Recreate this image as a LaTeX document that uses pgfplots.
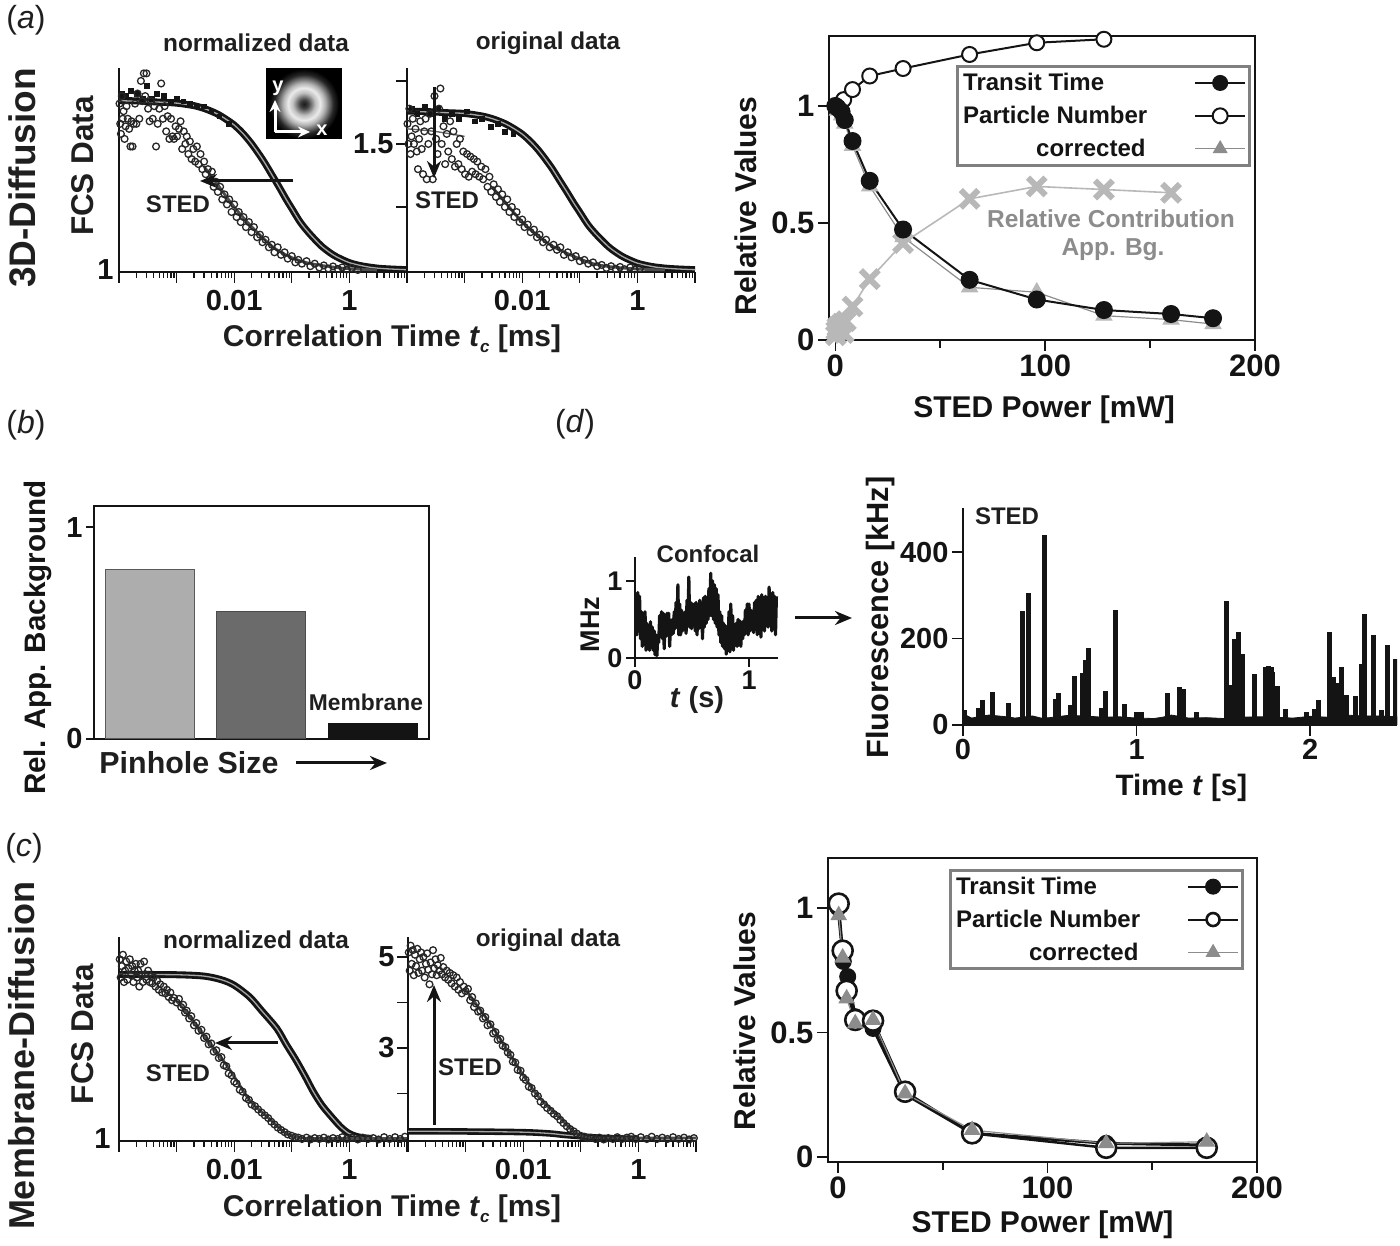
\documentclass[border=0pt]{standalone}
\usepackage{fontspec}
\usepackage{pgfplots}
\usepackage{pgfplotstable}
\pgfplotsset{compat=1.18}
\usetikzlibrary{arrows.meta}
\setmainfont{Liberation Sans}
\newcommand\fs[1]{\fontsize{#1}{#1}\selectfont\bfseries}
\newcommand\TT[4][0]{\node[rotate=#1,inner sep=0pt,text=black!88] at (#2pt,1246pt-#3pt) {#4};}
\definecolor{lgray}{gray}{0.72}
\definecolor{mgray}{gray}{0.55}
\definecolor{ink}{gray}{0.08}
\pgfdeclareradialshading{donut}{\pgfpoint{0bp}{0bp}}{gray(0bp)=(0.1);gray(3bp)=(0.25);gray(8bp)=(0.75);gray(11.5bp)=(0.92);gray(15bp)=(0.7);gray(21bp)=(0.15);gray(25bp)=(0.0);gray(50bp)=(0.0)}
\pgfplotsset{
 table/lt/.style={x expr={log10(\thisrowno{0})},y index=1},
 fcs/.style={scale only axis,width=288pt,height=204pt,xmin=-4,xmax=1,
  axis lines=left,axis line style={-,line width=1.7pt,ink},tick align=outside,
  major tick length=11pt,minor tick length=6pt,every tick/.append style={line width=1.3pt,ink},
  xtick={-4,-3,-2,-1,0,1},xticklabels={,,0.01,,1,},
  minor xtick={-3.699,-3.523,-3.398,-3.301,-3.222,-3.155,-3.097,-3.046,
   -2.699,-2.523,-2.398,-2.301,-2.222,-2.155,-2.097,-2.046,
   -1.699,-1.523,-1.398,-1.301,-1.222,-1.155,-1.097,-1.046,
   -0.699,-0.523,-0.398,-0.301,-0.222,-0.155,-0.097,-0.046,
   0.301,0.477,0.602,0.699,0.778,0.845,0.903,0.954},
  xticklabel style={font=\fs{29},text=ink,yshift=-4pt},yticklabel style={font=\fs{29},text=ink,xshift=1pt}},
 scat/.style={only marks,mark=o,mark size=3.4pt,mark options={draw=black!85,fill=white,fill opacity=0.55,draw opacity=1,line width=1.3pt}},
 cblob/.style={only marks,mark=square*,mark size=2.4pt,mark options={draw=ink,fill=ink}},
 band/.style={smooth,line width=7pt,ink},
 core/.style={smooth,line width=1.3pt,black!35},
 fitline/.style={smooth,line width=1.4pt,black!60},
 under/.style={smooth,line width=2.8pt,black!70},
 rel/.style={scale only axis,axis line style={line width=1.7pt,ink},tick pos=left,tick align=outside,
  major tick length=11pt,minor tick length=8pt,every tick/.append style={line width=1.6pt,ink},
  xtick={0,100,200},xticklabels={0,100,200},minor xtick={50,150},xmin=-3,xmax=200,
  ytick={0,0.5,1},yticklabels={0,0.5,1},
  xticklabel style={font=\fs{31},text=ink},yticklabel style={font=\fs{31},text=ink},
  label style={font=\fs{30},text=ink},
  legend plot pos=right,legend cell align=left,
  legend style={font=\fs{24},text=ink,draw=black!50,line width=3pt,inner xsep=3.5pt,inner ysep=5pt,row sep=10pt,fill=white},
  legend image code/.code={\draw[mark repeat=2,mark phase=2,##1] plot coordinates {(0pt,0pt)(25pt,0pt)(50pt,0pt)};}},
 blk/.style={line width=2pt,ink,mark=*,mark options={draw=ink,fill=ink,line width=1pt}},
 opn/.style={line width=2pt,ink,mark=*,mark options={draw=ink,fill=white,line width=2pt}},
 tri/.style={line width=1.2pt,mgray,mark=triangle*,mark options={draw=lgray,fill=lgray}},
}
\begin{document}
\begin{tikzpicture}[x=1pt,y=1pt]
\useasboundingbox (0,0) rectangle (1400pt,1246pt);

% ------------------ (a) left
\begin{axis}[fcs,ymin=0.992,ymax=1.8015,ytick={1},yticklabels={1},ytick style={draw=none},yticklabel style={xshift=8pt},at={(119pt,974pt)},anchor=south west]
\addplot[band] table[lt] {
1e-4 1.672
2e-4 1.671
5e-4 1.666
1e-3 1.662
2e-3 1.652
3.16e-3 1.639
5e-3 1.62
7e-3 1.60
1e-2 1.575
1.4e-2 1.543
2e-2 1.501
3.16e-2 1.436
4.5e-2 1.378
6e-2 1.33
8e-2 1.28
1e-1 1.244
1.4e-1 1.19
2e-1 1.146
3.16e-1 1.098
.45 1.07
.6 1.052
1 1.029
1.5 1.018
2 1.013
3.16 1.007
5 1.004
10 1.001
};
\addplot[cblob] table[lt] {
1.1e-4 1.70
1.3e-4 1.69
1.6e-4 1.71
2e-4 1.70
2.6e-4 1.68
3e-4 1.73
3.7e-4 1.68
4.5e-4 1.70
6e-4 1.69
8e-4 1.67
1e-3 1.68
1.3e-3 1.67
1.7e-3 1.66
2.2e-3 1.65
3e-3 1.65
4e-3 1.63
5.5e-3 1.61
8e-3 1.58
};
\addplot[core] table[lt] {
1e-4 1.672
5e-4 1.666
1e-3 1.662
2e-3 1.652
3.16e-3 1.639
5e-3 1.62
7e-3 1.60
1e-2 1.575
1.4e-2 1.543
2e-2 1.501
3.16e-2 1.436
4.5e-2 1.378
6e-2 1.33
8e-2 1.28
1e-1 1.244
1.4e-1 1.19
2e-1 1.146
3.16e-1 1.098
.45 1.07
.6 1.052
1 1.029
2 1.013
3.16 1.007
5 1.004
10 1.001
};
\addplot[under] table[lt] {
3e-3 1.41
4.4e-3 1.36
1e-2 1.25
2.25e-2 1.16
5.5e-2 1.08
1.6e-1 1.032
7e-1 1.008
3 1.0
};
\addplot[scat] table[lt] {
1.02e-4 1.66
1.05e-4 1.58
1.08e-4 1.54
1.12e-4 1.69
1.16e-4 1.60
1.2e-4 1.63
1.25e-4 1.52
1.3e-4 1.57
1.35e-4 1.65
1.42e-4 1.60
1.5e-4 1.56
1.58e-4 1.49
1.65e-4 1.59
1.72e-4 1.49
1.8e-4 1.58
1.9e-4 1.66
2e-4 1.58
2.1e-4 1.70
2.25e-4 1.60
2.4e-4 1.75
2.55e-4 1.67
2.7e-4 1.78
2.85e-4 1.69
3e-4 1.78
3.2e-4 1.64
3.4e-4 1.59
3.6e-4 1.67
3.85e-4 1.60
4.1e-4 1.65
4.4e-4 1.49
4.7e-4 1.58
5e-4 1.64
5.4e-4 1.74
5.8e-4 1.60
6.2e-4 1.65
6.6e-4 1.55
7e-4 1.61
7.5e-4 1.52
8e-4 1.60
8.5e-4 1.53
9e-4 1.52
9.6e-4 1.57
1.02e-3 1.53
1.1e-3 1.56
1.17e-3 1.59
1.25e-3 1.48
1.33e-3 1.55
1.42e-3 1.50
1.5e-3 1.53
1.6e-3 1.46
1.7e-3 1.51
1.82e-3 1.44
1.95e-3 1.48
2.1e-3 1.43
2.25e-3 1.49
2.4e-3 1.42
2.6e-3 1.46
2.8e-3 1.40
3e-3 1.43
3.2e-3 1.38
3.5e-3 1.40
3.8e-3 1.36
4.1e-3 1.39
4.4e-3 1.33
4.8e-3 1.35
5.2e-3 1.31
5.7e-3 1.33
6.2e-3 1.28
6.8e-3 1.30
7.5e-3 1.26
8.2e-3 1.28
9e-3 1.23
1e-2 1.26
1.1e-2 1.21
1.2e-2 1.23
1.3e-2 1.19
1.45e-2 1.21
1.6e-2 1.17
1.8e-2 1.19
2e-2 1.15
2.2e-2 1.17
2.5e-2 1.13
2.8e-2 1.14
3.1e-2 1.11
3.5e-2 1.12
4e-2 1.09
4.5e-2 1.10
5e-2 1.07
5.7e-2 1.09
6.5e-2 1.06
7.5e-2 1.07
8.5e-2 1.045
1e-1 1.055
1.15e-1 1.03
1.3e-1 1.04
1.5e-1 1.025
1.8e-1 1.035
2.1e-1 1.015
2.5e-1 1.025
3e-1 1.01
3.6e-1 1.018
4.3e-1 1.006
5.2e-1 1.014
6.3e-1 1.004
7.5e-1 1.01
9e-1 1.002
1.1 1.008
1.4 1.0
};
\end{axis}

% ------------------ (a) middle
\begin{axis}[fcs,ymin=0.992,ymax=1.8015,ytick={1.25,1.5,1.75},yticklabels={,1.5,},at={(407pt,974pt)},anchor=south west]
\addplot[band] table[lt] {
1e-4 1.630
2e-4 1.629
5e-4 1.624
1e-3 1.621
2e-3 1.611
3.16e-3 1.599
5e-3 1.581
7e-3 1.5625
1e-2 1.539
1.4e-2 1.509
2e-2 1.47
3.16e-2 1.409
4.5e-2 1.354
6e-2 1.309
8e-2 1.2625
1e-1 1.229
1.4e-1 1.178
2e-1 1.137
3.16e-1 1.092
.45 1.066
.6 1.049
1 1.027
1.5 1.017
2 1.012
3.16 1.007
5 1.004
10 1.001
};
\addplot[cblob] table[lt] {
1.2e-4 1.64
1.5e-4 1.62
2e-4 1.65
2.6e-4 1.62
3.4e-4 1.64
4.5e-4 1.60
6e-4 1.62
8e-4 1.60
1.1e-3 1.63
1.5e-3 1.59
2e-3 1.60
2.8e-3 1.57
3.8e-3 1.58
5e-3 1.55
7e-3 1.54
};
\addplot[core] table[lt] {
1e-4 1.630
5e-4 1.624
1e-3 1.621
2e-3 1.611
3.16e-3 1.599
5e-3 1.581
7e-3 1.5625
1e-2 1.539
1.4e-2 1.509
2e-2 1.47
3.16e-2 1.409
4.5e-2 1.354
6e-2 1.309
8e-2 1.2625
1e-1 1.229
1.4e-1 1.178
2e-1 1.137
3.16e-1 1.092
.45 1.066
.6 1.049
1 1.027
2 1.012
3.16 1.007
5 1.004
10 1.001
};
\addplot[fitline] table[lt] {
1e-4 1.56
3e-4 1.55
1e-3 1.53
};
\addplot[under] table[lt] {
3e-3 1.33
5e-3 1.27
1e-2 1.19
2e-2 1.13
4e-2 1.085
1.7e-1 1.025
7e-1 1.006
3 1.0
};
\addplot[scat] table[lt] {
1.02e-4 1.58
1.06e-4 1.50
1.1e-4 1.64
1.15e-4 1.46
1.2e-4 1.53
1.26e-4 1.60
1.32e-4 1.50
1.4e-4 1.56
1.48e-4 1.47
1.55e-4 1.40
1.62e-4 1.52
1.7e-4 1.59
1.8e-4 1.48
1.9e-4 1.38
2e-4 1.55
2.1e-4 1.60
2.2e-4 1.36
2.35e-4 1.50
2.5e-4 1.62
2.65e-4 1.55
2.8e-4 1.36
3e-4 1.69
3.2e-4 1.52
3.4e-4 1.46
3.6e-4 1.64
3.8e-4 1.72
4e-4 1.50
4.3e-4 1.57
4.6e-4 1.42
4.9e-4 1.54
5.2e-4 1.47
5.6e-4 1.59
6e-4 1.44
6.4e-4 1.55
6.8e-4 1.41
7.3e-4 1.50
7.8e-4 1.42
8.3e-4 1.52
8.9e-4 1.40
9.5e-4 1.47
1.02e-3 1.38
1.1e-3 1.46
1.18e-3 1.37
1.26e-3 1.45
1.35e-3 1.39
1.45e-3 1.44
1.55e-3 1.38
1.66e-3 1.43
1.8e-3 1.37
1.95e-3 1.41
2.1e-3 1.36
2.3e-3 1.40
2.5e-3 1.33
2.7e-3 1.37
2.9e-3 1.31
3.2e-3 1.34
3.5e-3 1.29
3.8e-3 1.32
4.1e-3 1.27
4.5e-3 1.30
5e-3 1.25
5.5e-3 1.28
6e-3 1.23
6.6e-3 1.25
7.3e-3 1.21
8e-3 1.23
9e-3 1.19
1e-2 1.20
1.1e-2 1.17
1.25e-2 1.18
1.4e-2 1.15
1.6e-2 1.16
1.8e-2 1.13
2e-2 1.14
2.3e-2 1.11
2.6e-2 1.12
3e-2 1.09
3.5e-2 1.10
4e-2 1.08
4.6e-2 1.09
5.3e-2 1.06
6.2e-2 1.07
7.2e-2 1.05
8.5e-2 1.055
1e-1 1.035
1.2e-1 1.04
1.4e-1 1.025
1.7e-1 1.03
2e-1 1.015
2.4e-1 1.02
2.9e-1 1.008
3.5e-1 1.015
4.2e-1 1.005
5e-1 1.012
6e-1 1.003
7.5e-1 1.01
9e-1 1.002
1.1 1.006
};
\end{axis}

% inset
\fill[black] (266pt,1246pt-68pt) rectangle (342pt,1246pt-139pt);
\path[shading=donut] (304pt,1246pt-104pt) circle (35pt);
\draw[white,line width=3pt,-{Stealth[length=12pt,width=11pt]}] (275pt,1246pt-132pt) -- (275pt,1246pt-100pt);
\draw[white,line width=3pt,-{Stealth[length=12pt,width=11pt]}] (275pt,1246pt-132pt) -- (310pt,1246pt-132pt);
\node[text=white,inner sep=0pt,font=\fs{20}] at (278pt,1246pt-88pt) {y};
\node[text=white,inner sep=0pt,font=\fs{20}] at (322pt,1246pt-130pt) {x};

% ------------------ (a) right
\begin{axis}[rel,width=426pt,height=304pt,ymin=0,ymax=1.299,
 xlabel={STED Power [mW]},ylabel={Relative Values},
 xlabel style={at={(axis description cs:0.505,-0.23)},anchor=center},
 ylabel style={at={(axis description cs:-0.195,0.44)},anchor=center},
 reverse legend,legend style={at={(axis cs:57.6,1.175)},anchor=north west},at={(829pt,906pt)},anchor=south west]
\addplot[forget plot,line width=1.6pt,lgray,mark=x,mark size=12.5pt,mark options={line width=6pt,lgray}] coordinates {
(0.3,0.02)(0.5,0.04)(1,0.055)(2,0.045)(3,0.07)(4,0.03)(5,0.08)(8.2,0.143)(16.4,0.26)(32.3,0.414)(64,0.603)(96,0.656)(128,0.643)(160,0.629)};
\addplot[tri,mark size=9pt,legend image post style={mark size=7.5pt,mgray,mark options={draw=mgray,fill=mgray}}] coordinates {
(1,0.98)(3,0.96)(4.5,0.925)(8.2,0.83)(16.4,0.657)(32.3,0.44)(64,0.225)(96,0.204)(128,0.104)(160,0.087)(180,0.068)};
\addlegendentry{\makebox[229pt][l]{\hspace*{73pt}corrected}}
\addplot[opn,mark size=7.5pt] coordinates {
(1,0.995)(4,1.027)(8.2,1.07)(16.4,1.128)(32.3,1.16)(64,1.22)(96,1.27)(128,1.285)};
\addlegendentry{\makebox[229pt][l]{Particle Number}}
\addplot[blk,mark size=8.5pt,legend image post style={mark size=7.5pt}] coordinates {
(0,1.0)(1,0.993)(3,0.975)(4.5,0.94)(8.2,0.85)(16.4,0.68)(32.3,0.472)(64,0.257)(96,0.173)(128,0.128)(160,0.111)(180,0.093)};
\addlegendentry{\makebox[229pt][l]{Transit Time}}
\end{axis}
\TT{1111}{219}{\fs{24.5}\color{black!45}Relative Contribution}
\TT{1113}{250}{\fs{24.5}\color{black!45}App. Bg.}

% ------------------ (b)
\begin{axis}[scale only axis,width=335pt,height=233pt,
 ymin=0,ymax=1.1,xmin=0.5,xmax=3.51,xtick=\empty,ytick={0,1},yticklabels={0,1},
 axis line style={line width=1.7pt,ink},tick pos=left,tick align=outside,major tick length=8pt,
 every tick/.append style={line width=1.5pt,ink},yticklabel style={font=\fs{29},text=ink},
 ylabel={Rel. App. Background},ylabel style={font=\fs{29.6},text=ink,at={(axis description cs:-0.167,0.435)},anchor=center},
 ybar,bar width=0.8,bar shift=0pt,at={(94pt,507pt)},anchor=south west]
\addplot[fill=black!32,draw=black!65,line width=1pt] coordinates {(1,0.8)};
\addplot[fill=black!58,draw=black!70,line width=1pt] coordinates {(2,0.6)};
\addplot[fill=ink,draw=ink] coordinates {(3,0.075)};
\end{axis}
\TT{189}{763}{\fs{30.4}Pinhole Size}
\TT{366}{702}{\fs{22.8}Membrane}
\draw[line width=3pt,ink,-{Stealth[length=17pt,width=14pt]}] (296pt,1246pt-763pt) -- (387pt,1246pt-763pt);

% ------------------ (d) left
\begin{axis}[scale only axis,width=143pt,height=101pt,
 xmin=0,xmax=1.254,ymin=0,ymax=1.31,axis lines=left,axis line style={-,line width=1.5pt,ink},tick align=outside,
 major tick length=9pt,every tick/.append style={line width=1.4pt,ink},
 xtick={0,1},xticklabels={0,1},ytick={0,1},yticklabels={0,1},
 xticklabel style={font=\fs{27},text=ink},yticklabel style={font=\fs{27},text=ink},
 ylabel={MHz},ylabel style={font=\fs{27},text=ink,at={(axis description cs:-0.315,0.33)},anchor=center},at={(635pt,588pt)},anchor=south west]
\addplot[line width=3.2pt,ink,line join=round] table {
0 .35
.008 .55
.016 .3
.024 .85
.032 .35
.04 .8
.048 .25
.056 .6
.064 .15
.072 .55
.08 .2
.088 .6
.096 .1
.104 .45
.112 .12
.12 .42
.128 .1
.136 .47
.144 .14
.152 .4
.16 .1
.168 .35
.176 .04
.184 .3
.192 .03
.2 .28
.208 .2
.216 .55
.224 .3
.232 .6
.24 .25
.248 .58
.256 .12
.264 .55
.272 .28
.28 .58
.288 .3
.296 .58
.304 .15
.312 .45
.32 .3
.328 .5
.336 .32
.344 .6
.352 .38
.36 .72
.368 .4
.376 .95
.384 .3
.392 .7
.4 .3
.408 .62
.416 .35
.424 .58
.432 .38
.44 .6
.448 .32
.456 .75
.464 .45
.472 1.05
.48 .4
.488 .72
.496 .38
.504 .7
.512 .42
.52 .7
.528 .35
.536 .72
.544 .3
.552 .68
.56 .38
.568 .75
.576 .4
.584 .7
.592 .25
.6 .78
.608 .4
.616 .8
.624 .45
.632 .78
.64 .5
.648 .9
.656 .55
.664 1.1
.672 .55
.68 1.0
.688 .5
.696 .95
.704 .45
.712 .9
.72 .4
.728 .82
.736 .3
.744 .6
.752 .2
.76 .55
.768 .15
.776 .45
.784 .12
.792 .42
.8 .05
.808 .4
.816 .1
.824 .6
.832 .08
.84 .7
.848 .15
.856 .55
.864 .1
.872 .42
.88 .2
.888 .45
.896 .15
.904 .5
.912 .2
.92 .48
.928 .15
.936 .45
.944 .25
.952 .48
.96 .3
.968 .62
.976 .33
.984 .7
.992 .3
1.0 .7
1.008 .35
1.016 .62
1.024 .38
1.032 .6
1.04 .33
1.048 .72
1.056 .38
1.064 .75
1.072 .3
1.08 .8
1.088 .4
1.096 .72
1.104 .27
1.112 .82
1.12 .4
1.128 .78
1.136 .35
1.144 .8
1.152 .42
1.16 .75
1.168 .4
1.176 .92
1.184 .42
1.192 .8
1.2 .35
1.208 .85
1.216 .38
1.224 .8
1.232 .3
1.24 .8
};
\end{axis}
\TT{708}{554}{\fs{24}Confocal}
\TT{697}{700}{\fs{29}\textit{t} (s)}
\draw[line width=3pt,ink,-{Stealth[length=17pt,width=14pt]}] (795pt,1246pt-618pt) -- (852pt,1246pt-618pt);

% ------------------ (d) right
\begin{axis}[scale only axis,width=434pt,height=217pt,
 xmin=0,xmax=2.5,ymin=0,ymax=502,axis lines=left,axis line style={-,line width=1.7pt,ink},tick align=outside,
 major tick length=11pt,every tick/.append style={line width=1.5pt,ink},
 xtick={0,1,2},xticklabels={0,1,2},ytick={0,200,400},yticklabels={0,200,400},
 xticklabel style={font=\fs{29},text=ink},yticklabel style={font=\fs{29},text=ink},
 xlabel={Time \textit{t} [s]},xlabel style={font=\fs{29.5},text=ink,at={(axis description cs:0.503,-0.29)},anchor=center},
 ylabel={Fluorescence [kHz]},ylabel style={font=\fs{30.8},text=ink,at={(axis description cs:-0.189,0.495)},anchor=center,xshift=0pt},at={(963pt,521pt)},anchor=south west]
\addplot[fill=ink,draw=ink,line width=0.8pt] coordinates {
(0,34)(0.02,22)(0.05,16)(0.1,20)(0.15,23)(0.2,21)(0.25,19)(0.3,16)(0.4,21)(0.45,16)(0.5,17)(0.6,22)(0.7,21)(0.8,18)(0.9,19)(1.0,16)(1.1,15)(1.15,18)(1.2,23)(1.3,16)(1.4,17)(1.5,15)(1.6,18)(1.7,19)(1.8,18)(1.9,16)(2.0,20)(2.1,18)(2.2,23)(2.3,21)(2.4,21)(2.5,19)} \closedcycle;
\addplot[ycomb,line width=5pt,ink] coordinates {
(.01,35)(.09,39)(.115,57)(.17,77)(.26,50)(.34,263)(.38,306)(.47,440)(.53,60)(.55,75)(.62,47)(.64,114)(.69,120)(.705,150)(.725,177)(.795,39)(.82,79)(.88,267)(.93,49)(1.0,30)(1.03,30)(1.18,74)(1.245,87)(1.27,83)(1.345,31)(1.515,287)(1.54,93)(1.565,198)(1.585,214)(1.61,164)(1.68,117)(1.745,135)(1.76,137)(1.775,135)(1.785,123)(1.81,91)(1.855,38)(1.98,29)(2.025,38)(2.045,58)(2.11,214)(2.135,112)(2.16,97)(2.18,135)(2.21,70)(2.26,68)(2.295,140)(2.315,257)(2.365,209)(2.41,34)(2.445,185)(2.49,152)};
\end{axis}
\TT{1007}{516}{\fs{24}STED}

% ------------------ (c) left
\begin{axis}[fcs,ymin=0.956,ymax=5.44,ytick={1},yticklabels={1},ytick style={draw=none},yticklabel style={xshift=5pt},at={(119pt,105pt)},anchor=south west]
\addplot[band] table[lt] {
1e-4 4.62
1e-3 4.61
3e-3 4.58
6e-3 4.5
1e-2 4.38
1.86e-2 4.12
3e-2 3.82
5.5e-2 3.43
.08 3.08
.115 2.76
.17 2.38
.234 2.05
.33 1.75
.48 1.5
.7 1.27
.96 1.13
1.3 1.06
1.7 1.03
2.5 1.01
};
\addplot[core] table[lt] {
1e-4 4.62
1e-3 4.61
3e-3 4.58
6e-3 4.5
1e-2 4.38
1.86e-2 4.12
3e-2 3.82
5.5e-2 3.43
.08 3.08
.115 2.76
.17 2.38
.234 2.05
.33 1.75
.48 1.5
.7 1.27
.96 1.13
1.3 1.06
1.7 1.03
2.5 1.01
};
\addplot[under] table[lt] {
1e-3 4.03
1.5e-3 3.78
3.2e-3 3.22
7.8e-3 2.58
1.86e-2 1.85
3.9e-2 1.47
8e-2 1.12
1.6e-1 1.02
1 1.01
10 1.01
};
\addplot[scat] table[lt] {
1.03e-4 4.95
1.07e-4 4.55
1.12e-4 4.80
1.17e-4 5.05
1.22e-4 4.45
1.28e-4 4.70
1.34e-4 4.90
1.4e-4 4.50
1.47e-4 4.75
1.54e-4 4.95
1.62e-4 4.60
1.7e-4 4.80
1.78e-4 4.45
1.87e-4 4.70
1.96e-4 4.85
2.05e-4 4.55
2.15e-4 4.70
2.25e-4 4.35
2.36e-4 4.85
2.48e-4 4.60
2.6e-4 4.45
2.73e-4 4.90
2.87e-4 4.62
3e-4 4.50
3.2e-4 4.70
3.4e-4 4.45
3.6e-4 4.58
3.8e-4 4.42
4e-4 4.55
4.3e-4 4.35
4.6e-4 4.48
4.9e-4 4.28
5.2e-4 4.40
5.6e-4 4.22
6e-4 4.35
6.4e-4 4.20
6.8e-4 4.28
7.3e-4 4.12
7.8e-4 4.22
8.3e-4 4.05
9e-4 4.10
1e-3 4.00
1.1e-3 4.08
1.2e-3 3.90
1.3e-3 3.95
1.4e-3 3.78
1.5e-3 3.82
1.65e-3 3.65
1.8e-3 3.70
2e-3 3.50
2.2e-3 3.55
2.4e-3 3.38
2.7e-3 3.40
3e-3 3.22
3.3e-3 3.25
3.6e-3 3.08
4e-3 3.10
4.4e-3 2.92
4.9e-3 2.95
5.4e-3 2.78
6e-3 2.80
6.6e-3 2.62
7.3e-3 2.60
8e-3 2.44
9e-3 2.40
1e-2 2.26
1.1e-2 2.22
1.25e-2 2.08
1.4e-2 2.04
1.6e-2 1.90
1.8e-2 1.86
2e-2 1.76
2.3e-2 1.72
2.6e-2 1.65
3e-2 1.58
3.4e-2 1.52
3.9e-2 1.46
4.4e-2 1.38
5e-2 1.32
5.7e-2 1.25
6.5e-2 1.20
7.5e-2 1.15
8.5e-2 1.10
1e-1 1.07
1.15e-1 1.04
1.3e-1 1.03
1.5e-1 1.0
1.8e-1 1.03
2.1e-1 0.99
2.5e-1 1.02
3e-1 1.0
3.6e-1 1.03
4.3e-1 0.99
5.2e-1 1.02
6.3e-1 1.0
7.5e-1 1.04
9e-1 1.0
1.1 1.03
1.4 0.99
1.7 1.03
2.1 1.0
2.6 1.02
3.2 0.99
4 1.04
5 1.0
6.2 1.04
7.6 1.0
9.2 1.05
};
\end{axis}

% ------------------ (c) middle
\begin{axis}[fcs,ymin=0.956,ymax=5.44,ytick={2,3,4,5},yticklabels={,3,,5},at={(408pt,105pt)},anchor=south west]
\addplot[smooth,line width=6.5pt,ink] table[lt] {
1e-4 1.17
1e-3 1.165
1e-2 1.15
3e-2 1.12
5e-2 1.09
1e-1 1.06
2e-1 1.03
5e-1 1.01
1 1.005
};
\addplot[core] table[lt] {
1e-4 1.17
1e-3 1.165
1e-2 1.15
3e-2 1.12
5e-2 1.09
1e-1 1.06
2e-1 1.03
5e-1 1.01
1 1.005
};
\addplot[under] table[lt] {
1e-3 4.28
2.8e-3 3.5
5.6e-3 2.9
1.66e-2 2.0
4.1e-2 1.5
8.3e-2 1.13
1.6e-1 1.03
1 1.02
10 1.02
};
\addplot[scat] table[lt] {
1.03e-4 5.10
1.07e-4 4.70
1.11e-4 5.25
1.16e-4 4.85
1.21e-4 5.15
1.26e-4 4.60
1.32e-4 5.05
1.38e-4 4.80
1.45e-4 5.18
1.52e-4 4.65
1.6e-4 4.95
1.68e-4 5.10
1.76e-4 4.70
1.85e-4 5.00
1.95e-4 4.55
2.05e-4 4.85
2.15e-4 5.08
2.25e-4 4.72
2.36e-4 4.40
2.47e-4 4.88
2.6e-4 4.62
2.72e-4 5.15
2.85e-4 4.75
3e-4 4.95
3.15e-4 4.60
3.3e-4 4.82
3.5e-4 4.70
3.7e-4 4.98
3.9e-4 4.62
4.1e-4 4.78
4.4e-4 4.55
4.7e-4 4.70
5e-4 4.50
5.3e-4 4.65
5.7e-4 4.42
6.1e-4 4.60
6.5e-4 4.35
7e-4 4.55
7.5e-4 4.28
8e-4 4.45
8.6e-4 4.20
9.3e-4 4.35
1e-3 4.25
1.1e-3 4.30
1.2e-3 4.05
1.3e-3 4.12
1.4e-3 3.90
1.5e-3 3.98
1.65e-3 3.80
1.8e-3 3.82
2e-3 3.65
2.2e-3 3.68
2.4e-3 3.50
2.7e-3 3.52
3e-3 3.32
3.3e-3 3.35
3.6e-3 3.18
4e-3 3.20
4.4e-3 3.05
4.9e-3 3.02
5.4e-3 2.90
6e-3 2.85
6.6e-3 2.70
7.3e-3 2.68
8e-3 2.52
9e-3 2.50
1e-2 2.35
1.1e-2 2.30
1.25e-2 2.15
1.4e-2 2.12
1.6e-2 2.0
1.8e-2 1.94
2e-2 1.82
2.3e-2 1.76
2.6e-2 1.68
3e-2 1.62
3.4e-2 1.55
3.9e-2 1.50
4.4e-2 1.42
5e-2 1.35
5.7e-2 1.28
6.5e-2 1.22
7.5e-2 1.17
8.5e-2 1.12
1e-1 1.07
1.15e-1 1.05
1.3e-1 1.02
1.5e-1 1.03
1.8e-1 1.0
2.1e-1 1.03
2.5e-1 0.99
3e-1 1.02
3.6e-1 1.0
4.3e-1 1.04
5.2e-1 1.0
6.3e-1 1.03
7.5e-1 1.05
9e-1 1.0
1.1 1.04
1.4 1.0
1.7 1.05
2.1 1.0
2.6 1.03
3.2 1.0
4 1.04
5 1.0
6.2 1.03
7.6 0.99
9.2 1.02
};
\end{axis}

% ------------------ (c) right
\begin{axis}[rel,width=429pt,height=304pt,xmin=-4.8,ymin=-0.02,ymax=1.2,
 xlabel={STED Power [mW]},ylabel={Relative Values},
 xlabel style={at={(axis description cs:0.50,-0.205)},anchor=center},
 ylabel style={at={(axis description cs:-0.193,0.464)},anchor=center},
 legend style={at={(axis cs:53,1.157)},anchor=north west},at={(828pt,84pt)},anchor=south west]
\addplot[blk,line width=3pt,mark size=8pt,legend image post style={mark size=7.5pt,line width=2pt}] coordinates {
(0,1)(2.5,0.785)(4.6,0.724)(8.2,0.563)(16.7,0.516)(32,0.252)(64,0.095)(128,0.055)(176,0.048)};
\addlegendentry{\makebox[229pt][l]{Transit Time}}
\addplot[opn,line width=2.5pt,mark size=10pt,mark options={draw=ink,fill=white,line width=2.6pt},legend image post style={mark size=6.5pt,line width=2pt}] coordinates {
(0.3,1.017)(2.2,0.828)(4.1,0.667)(8.2,0.55)(16.7,0.547)(32,0.262)(64,0.095)(128,0.037)(176,0.037)};
\addlegendentry{\makebox[229pt][l]{Particle Number}}
\addplot[tri,mark size=8.5pt,mark options={draw=mgray,fill=mgray},legend image post style={mark size=7.5pt}] coordinates {
(0.3,0.97)(2.2,0.80)(4.1,0.636)(8.2,0.536)(16.7,0.55)(32,0.255)(64,0.108)(128,0.055)(176,0.061)};
\addlegendentry{\makebox[229pt][l]{\hspace*{73pt}corrected}}
\end{axis}

% ------------------ shared text
\TT{26}{20}{\fontsize{32}{32}\selectfont(\textit{a})}
\TT{26}{425}{\fontsize{32}{32}\selectfont(\textit{b})}
\TT{24}{848}{\fontsize{32}{32}\selectfont(\textit{c})}
\TT{575}{424}{\fontsize{32}{32}\selectfont(\textit{d})}
\TT{256}{43}{\fs{24.4}normalized data}
\TT{548}{43}{\fs{24.3}original data}
\TT{256}{940}{\fs{24.4}normalized data}
\TT{548}{940}{\fs{24.3}original data}
\TT[90]{22}{178}{\fs{37}3D-Diffusion}
\TT[90]{22}{1056}{\fs{36}Membrane-Diffusion}
\TT[90]{83}{166}{\fs{31.5}FCS Data}
\TT[90]{83}{1034}{\fs{31.5}FCS Data}
\TT{178}{204}{\fs{24}STED}
\TT{447}{200}{\fs{24}STED}
\TT{178}{1073}{\fs{24}STED}
\TT{470}{1067}{\fs{24}STED}
\TT{392}{339}{\fs{30}Correlation Time \textit{t}\raisebox{-6pt}{\fontsize{17}{17}\selectfont\textit{c}} [ms]}
\TT{392}{1209}{\fs{30}Correlation Time \textit{t}\raisebox{-6pt}{\fontsize{17}{17}\selectfont\textit{c}} [ms]}
\draw[line width=3pt,ink,-{Stealth[length=17pt,width=14pt]}] (293pt,1246pt-181pt) -- (200pt,1246pt-181pt);
\draw[line width=3pt,ink,-{Stealth[length=17pt,width=14pt]}] (434pt,1246pt-87pt) -- (434pt,1246pt-178pt);
\draw[line width=3pt,ink,-{Stealth[length=17pt,width=14pt]}] (278pt,1246pt-1043pt) -- (215pt,1246pt-1043pt);
\draw[line width=3pt,ink,-{Stealth[length=17pt,width=14pt]}] (434pt,1246pt-1125pt) -- (434pt,1246pt-985pt);
\end{tikzpicture}
\end{document}
